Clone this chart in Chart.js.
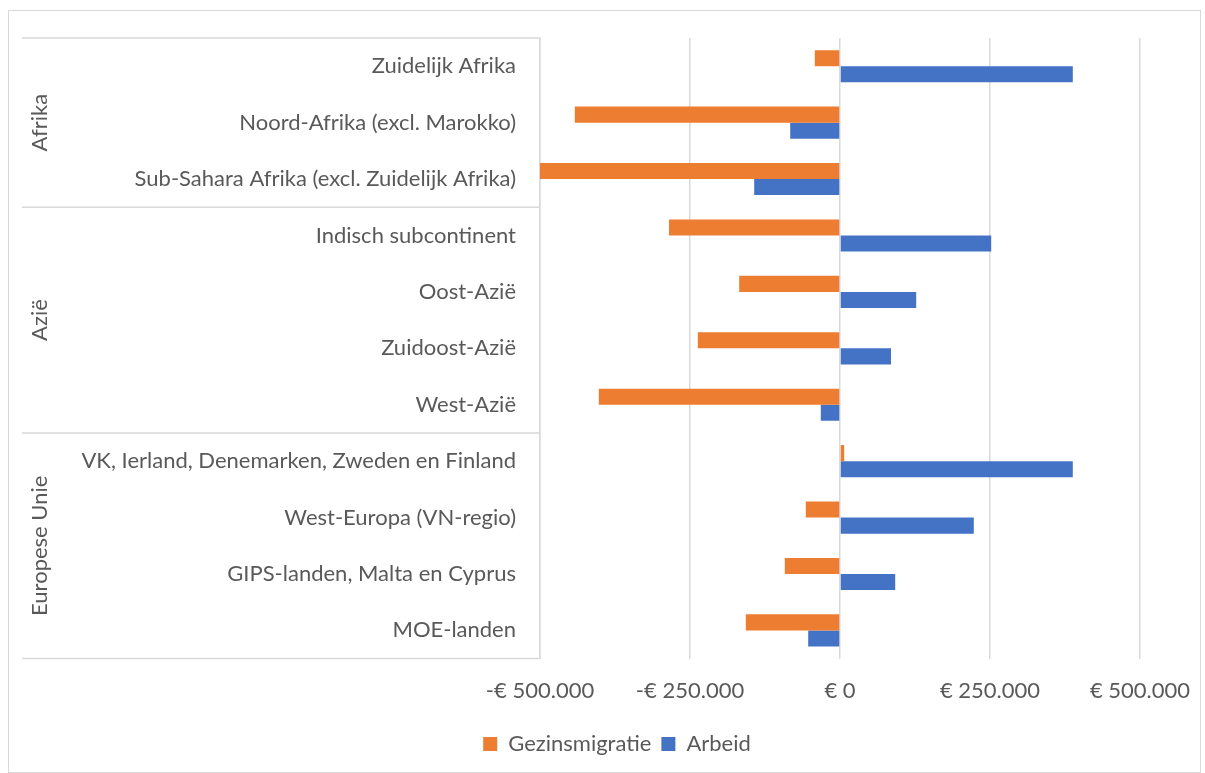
<!DOCTYPE html>
<html>
<head>
<meta charset="utf-8">
<script src="https://cdn.jsdelivr.net/npm/chart.js@4.4.1/dist/chart.umd.min.js"></script>
<style>
    body { margin: 0; background: #fff; }
    #frame { position: absolute; left: 8px; top: 10px; width: 1191px; height: 761px; border: 1px solid #d9d9d9; }
</style>
</head>
<body>
<div id="frame"><canvas id="migratieChart"></canvas></div>
<script>
// Data (euro)
const categories = [
    'Zuidelijk Afrika',
    'Noord-Afrika (excl. Marokko)',
    'Sub-Sahara Afrika (excl. Zuidelijk Afrika)',
    'Indisch subcontinent',
    'Oost-Azië',
    'Zuidoost-Azië',
    'West-Azië',
    'VK, Ierland, Denemarken, Zweden en Finland',
    'West-Europa (VN-regio)',
    'GIPS-landen, Malta en Cyprus',
    'MOE-landen'
];
const groups = ['Afrika', 'Azië', 'Europese Unie'];
const groupSizes = [3, 4, 4];
const gezinsmigratie = [-42000, -442000, -520000, -285000, -168000, -237000, -402000, 7000, -57000, -92000, -157000];
const arbeid = [388000, -83000, -143000, 252000, 127000, 85000, -32000, 388000, 223000, 92000, -53000];
const xTicks = [-500000, -250000, 0, 250000, 500000];

const textColor = '#595959';
const lineColor = '#d9d9d9';
const fontFamily = 'Lato, "Open Sans", sans-serif';
const fontSize = 22;

function euro(v) {
    const s = String(Math.abs(v)).replace(/\B(?=(\d{3})+(?!\d))/g, '.');
    return (v < 0 ? '-' : '') + '€ ' + s;
}

// Group labels and separator lines left of the axis
const groupPlugin = {
    id: 'groupPlugin',
    afterLayout(chart) {
        // legend sits a bit right of centre in the original
        chart.legend.left += 36;
        chart.legend.right += 36;
    },
    afterDraw(chart) {
        const ctx = chart.ctx;
        const y = chart.scales.y;
        const area = chart.chartArea;
        const half = (y.getPixelForValue(1) - y.getPixelForValue(0)) / 2;
        const left = chart.options.layout.padding.left;
        ctx.save();
        ctx.strokeStyle = lineColor;
        ctx.lineWidth = 1.5;
        let start = 0;
        const edges = [area.top];
        groupSizes.forEach((n, i) => {
            const top = y.getPixelForValue(start) - half;
            const bottom = y.getPixelForValue(start + n - 1) + half;
            edges.push(bottom);
            ctx.save();
            ctx.translate(left + 18, (top + bottom) / 2);
            ctx.rotate(-Math.PI / 2);
            ctx.fillStyle = textColor;
            ctx.font = fontSize + 'px ' + fontFamily;
            ctx.textAlign = 'center';
            ctx.textBaseline = 'middle';
            ctx.fillText(groups[i], 0, 0);
            ctx.restore();
            start += n;
        });
        edges.forEach(e => {
            ctx.beginPath();
            ctx.moveTo(left, e);
            ctx.lineTo(area.left, e);
            ctx.stroke();
        });
        ctx.restore();
    }
};

new Chart(document.getElementById('migratieChart'), {
    type: 'bar',
    data: {
        labels: categories,
        datasets: [{
            label: 'Gezinsmigratie',
            data: gezinsmigratie,
            backgroundColor: '#ED7D31',
            categoryPercentage: 0.57,
            barPercentage: 1.0
        }, {
            label: 'Arbeid',
            data: arbeid,
            backgroundColor: '#4472C4',
            categoryPercentage: 0.57,
            barPercentage: 1.0
        }]
    },
    options: {
        indexAxis: 'y',
        responsive: true,
        maintainAspectRatio: false,
        animation: false,
        layout: { padding: { left: 13, top: 27, right: 60, bottom: 7 } },
        scales: {
            x: {
                min: -500000,
                max: 500000,
                afterBuildTicks: scale => { scale.ticks = xTicks.map(v => ({ value: v })); },
                afterFit: scale => { scale.paddingLeft = 0; scale.paddingRight = 0; },
                grid: { color: lineColor, lineWidth: 1.5, drawTicks: false },
                border: { display: false },
                ticks: {
                    color: textColor,
                    font: { family: fontFamily, size: fontSize },
                    padding: 19,
                    callback: v => euro(v)
                }
            },
            y: {
                afterFit: scale => { scale.width = 518; scale.paddingTop = 0; scale.paddingBottom = 0; },
                grid: { display: false, drawTicks: false },
                border: { display: true, color: lineColor, width: 1.5 },
                ticks: {
                    color: textColor,
                    font: { family: fontFamily, size: fontSize },
                    padding: 24
                }
            }
        },
        plugins: {
            legend: {
                position: 'bottom',
                labels: {
                    color: textColor,
                    font: { family: fontFamily, size: fontSize },
                    boxWidth: 14,
                    boxHeight: 14,
                    padding: 10
                }
            },
            tooltip: { enabled: false }
        }
    },
    plugins: [groupPlugin]
});
</script>
</body>
</html>
